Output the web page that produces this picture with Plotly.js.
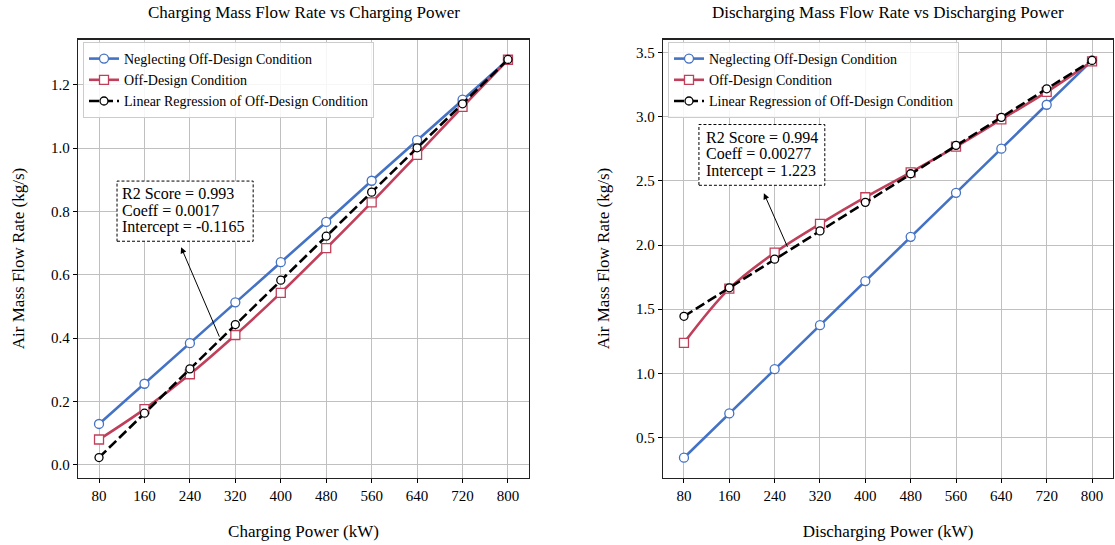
<!DOCTYPE html>
<html>
<head>
<meta charset="utf-8">
<script src="https://cdn.plot.ly/plotly-3.0.1.min.js"></script>
<style>
html,body{margin:0;padding:0;background:#fff;}
#chart{width:1115px;height:545px;}
</style>
</head>
<body>
<div id="chart"></div>
<script>
// ---- Data ----
const power = [80, 160, 240, 320, 400, 480, 560, 640, 720, 800];
const xTickLabels = ["80","160","240","320","400","480","560","640","720","800"];

// Charging (left panel), kg/s
const chgNeglect    = [0.129, 0.256, 0.384, 0.513, 0.640, 0.767, 0.897, 1.025, 1.153, 1.279];
const chgOffDesign  = [0.080, 0.176, 0.286, 0.410, 0.543, 0.684, 0.829, 0.979, 1.130, 1.279];
const chgRegression = [0.023, 0.163, 0.303, 0.443, 0.583, 0.722, 0.861, 1.001, 1.140, 1.280];

// Discharging (right panel), kg/s
const disNeglect    = [0.344, 0.689, 1.033, 1.376, 1.719, 2.064, 2.406, 2.750, 3.092, 3.437];
const disOffDesign  = [1.238, 1.660, 1.940, 2.164, 2.372, 2.566, 2.766, 2.978, 3.192, 3.430];
const disRegression = [1.445, 1.667, 1.890, 2.110, 2.332, 2.555, 2.776, 2.994, 3.216, 3.437];

const seriesNames = ["Neglecting Off-Design Condition", "Off-Design Condition", "Linear Regression of Off-Design Condition"];
const chgStatsText = ["R2 Score = 0.993", "Coeff = 0.0017", "Intercept = -0.1165"];
const disStatsText = ["R2 Score = 0.994", "Coeff = 0.00277", "Intercept = 1.223"];

const titles = ["Charging Mass Flow Rate vs Charging Power", "Discharging Mass Flow Rate vs Discharging Power"];
const xTitles = ["Charging Power (kW)", "Discharging Power (kW)"];
const yTitle = "Air Mass Flow Rate (kg/s)";

// ---- Styling ----
const FONT = "Liberation Serif, Times New Roman, serif";
const BLUE = "#4472c4";
const RED = "#c03f5a";
const BLACK = "#000000";

function traces(xa, ya, neg, off, reg, legend) {
  return [
    {x: power, y: neg, xaxis: xa, yaxis: ya, type: "scatter", mode: "lines+markers",
     name: seriesNames[0], legend: legend,
     line: {color: BLUE, width: 2.6},
     marker: {symbol: "circle", size: 9, color: "#ffffff", line: {color: BLUE, width: 1.3}}},
    {x: power, y: off, xaxis: xa, yaxis: ya, type: "scatter", mode: "lines+markers",
     name: seriesNames[1], legend: legend,
     line: {color: RED, width: 2.6, shape: "spline", smoothing: 1},
     marker: {symbol: "square", size: 9, color: "#ffffff", line: {color: RED, width: 1.3}}},
    {x: power, y: reg, xaxis: xa, yaxis: ya, type: "scatter", mode: "lines+markers",
     name: seriesNames[2], legend: legend,
     line: {color: BLACK, width: 2.6, dash: "10px,4px"},
     marker: {symbol: "circle", size: 8, color: "#ffffff", line: {color: BLACK, width: 1.3}}}
  ];
}

const data = [].concat(
  traces("x", "y", chgNeglect, chgOffDesign, chgRegression, "legend"),
  traces("x2", "y2", disNeglect, disOffDesign, disRegression, "legend2")
);

const W = 1115, H = 545;
const yDom = [(H - 477.5) / H, (H - 39.5) / H];

function xaxisDef(domain, title) {
  return {
    domain: domain, range: [43, 837],
    tickmode: "array", tickvals: power, ticktext: xTickLabels,
    ticks: "outside", ticklen: 4, tickwidth: 1, tickcolor: "#000",
    showline: true, linecolor: "#222", linewidth: 1.2, mirror: true,
    showgrid: true, gridcolor: "#c0c0c0", gridwidth: 1, zeroline: false,
    tickfont: {family: FONT, size: 15, color: "#000"},
    title: {text: title, font: {family: FONT, size: 17, color: "#000"}, standoff: 22},
    automargin: false
  };
}
function yaxisDef(range, dtick, anchor) {
  return {
    domain: yDom, range: range, anchor: anchor,
    tick0: 0, dtick: dtick, tickformat: ".1f",
    ticks: "outside", ticklen: 4, tickwidth: 1, tickcolor: "#000",
    showline: true, linecolor: "#222", linewidth: 1.2, mirror: true,
    showgrid: true, gridcolor: "#c0c0c0", gridwidth: 1, zeroline: false,
    tickfont: {family: FONT, size: 15, color: "#000"},
    title: {text: yTitle, font: {family: FONT, size: 17, color: "#000"}, standoff: 22},
    automargin: false
  };
}

// dashed text box + one annotation per text line
function statsBox(xref, yref, x0, x1, y0, y1, textX, lineYs, lines) {
  const anns = lines.map((t, i) => ({
    xref: xref, yref: yref, x: textX, y: lineYs[i], xanchor: "left", yanchor: "middle",
    showarrow: false, align: "left", text: t,
    font: {family: FONT, size: 16, color: "#000"}
  }));
  return {
    shape: {type: "rect", xref: xref, yref: yref, x0: x0, x1: x1, y0: y0, y1: y1,
            line: {color: "#000", width: 1, dash: "3px,2px"}, fillcolor: "#ffffff", layer: "above"},
    anns: anns
  };
}

const leftBox = statsBox("x", "y", 111.7, 351.4, 0.706, 0.896, 117, [0.858, 0.804, 0.750], chgStatsText);
const rightBox = statsBox("x2", "y2", 106.4, 328.5, 2.465, 2.938, 115, [2.840, 2.711, 2.576], disStatsText);

const legendStyle = {
  xref: "paper", yref: "paper", xanchor: "left", yanchor: "top",
  bgcolor: "rgba(255,255,255,0.85)", bordercolor: "#cccccc", borderwidth: 1,
  font: {family: FONT, size: 14, color: "#000"}, tracegroupgap: 0, itemwidth: 30
};

const layout = {
  width: W, height: H,
  margin: {l: 0, r: 0, t: 0, b: 0},
  paper_bgcolor: "#ffffff", plot_bgcolor: "#ffffff",
  font: {family: FONT, color: "#000"},
  showlegend: true,
  xaxis: Object.assign(xaxisDef([78 / W, 529 / W], xTitles[0]), {anchor: "y"}),
  yaxis: yaxisDef([-0.04, 1.343], 0.2, "x"),
  xaxis2: Object.assign(xaxisDef([663 / W, 1113 / W], xTitles[1]), {anchor: "y2"}),
  yaxis2: yaxisDef([0.19, 3.6], 0.5, "x2"),
  legend: Object.assign({}, legendStyle, {x: 83 / W, y: (H - 42) / H}),
  legend2: Object.assign({}, legendStyle, {x: 668 / W, y: (H - 42) / H}),
  shapes: [leftBox.shape, rightBox.shape],
  annotations: [
    {xref: "paper", yref: "paper", x: 303.5 / W, y: (H - 12) / H, xanchor: "center", yanchor: "middle",
     showarrow: false, text: titles[0], font: {family: FONT, size: 17, color: "#000"}},
    {xref: "paper", yref: "paper", x: 888 / W, y: (H - 12) / H, xanchor: "center", yanchor: "middle",
     showarrow: false, text: titles[1], font: {family: FONT, size: 17, color: "#000"}},
    {xref: "x", yref: "y", x: 224.5, y: 0.687, axref: "x", ayref: "y", ax: 293, ay: 0.40,
     showarrow: true, arrowhead: 2, arrowsize: 1.2, arrowwidth: 1, arrowcolor: "#000", text: ""},
    {xref: "x2", yref: "y2", x: 221, y: 2.403, axref: "x2", ayref: "y2", ax: 263.8, ay: 1.974,
     showarrow: true, arrowhead: 2, arrowsize: 1.2, arrowwidth: 1, arrowcolor: "#000", text: ""}
  ].concat(leftBox.anns, rightBox.anns)
};

Plotly.newPlot("chart", data, layout, {staticPlot: true, displayModeBar: false});
</script>
</body>
</html>
